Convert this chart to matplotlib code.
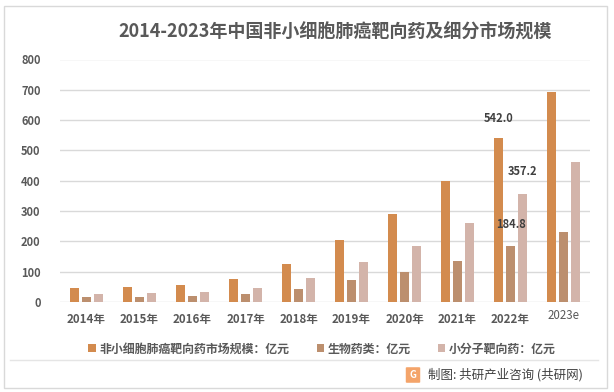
import matplotlib
matplotlib.use("Agg")
import matplotlib.pyplot as plt
import matplotlib.transforms as mtransforms
from matplotlib.patches import Rectangle, FancyBboxPatch
import numpy as np

plt.rcParams['font.family'] = ['Noto Sans CJK SC', 'DejaVu Sans']

years = ["2014年", "2015年", "2016年", "2017年", "2018年",
         "2019年", "2020年", "2021年", "2022年", "2023e"]
total = [46, 50, 57, 77, 127, 205, 290, 399, 542.0, 692]
bio = [17, 17, 21, 28, 44, 73, 99, 135, 184.8, 231]
small = [28, 31, 34, 47, 80, 132, 185, 261, 357.2, 462]
series_names = ["非小细胞肺癌靶向药市场规模：亿元", "生物药类：亿元", "小分子靶向药：亿元"]
colors = ["#D38B4E", "#BC8F6E", "#D3B4AA"]
labels_2022 = ["542.0", "184.8", "357.2"]

fig = plt.figure(figsize=(6.14, 3.92), dpi=100)
fig.patch.set_facecolor("white")
ax = fig.add_axes([60 / 614, 90 / 392, 530 / 614, 242.5 / 392])

x = np.arange(len(years))
w = 0.17
off = 0.225
for i, (vals, c, name) in enumerate(zip([total, bio, small], colors, series_names)):
    bars = ax.bar(x + (i - 1) * off, vals, width=w, color=c, label=name, zorder=3)
    b = bars[8]
    ax.annotate(labels_2022[i], (b.get_x() + b.get_width() / 2, b.get_height()),
                xytext=(0, 9 if i == 0 else 11), textcoords="offset points",
                ha="center", va="bottom", fontsize=8, fontweight="bold",
                color="#404040", zorder=6)

ax.set_ylim(0, 800)
ax.set_xlim(-0.5, len(years) - 0.5)
ax.set_yticks(range(0, 801, 100))
ax.yaxis.grid(True, color="#D9D9D9", linewidth=1, zorder=0)
for s in ax.spines.values():
    s.set_visible(False)
ax.tick_params(axis="both", length=0, labelsize=8, labelcolor="#595959")
ax.tick_params(axis="y", pad=14)
ax.tick_params(axis="x", pad=8)
ax.set_xticks(x)
ax.set_xticklabels(years, fontweight="bold", fontsize=8.3)
for t in ax.get_yticklabels():
    t.set_fontweight("bold")
lab = ax.get_xticklabels()[-1]
lab.set_transform(lab.get_transform() + mtransforms.ScaledTranslation(0, 4 / 100, fig.dpi_scale_trans))
lab.set_fontweight("normal")

fig.text(335 / 614, 1 - 32 / 392, "2014-2023年中国非小细胞肺癌靶向药及细分市场规模",
         ha="center", va="center", fontsize=13, fontweight="bold", color="#595959")

leg = fig.legend(loc="center", bbox_to_anchor=(322 / 614, 1 - 349 / 392), ncol=3,
                 frameon=False, prop={"size": 8.6, "weight": "bold"}, handlelength=0.6,
                 handleheight=0.6, handletextpad=0.3, columnspacing=2.3)
for t in leg.get_texts():
    t.set_color("#595959")

# footer
fig.add_artist(plt.Line2D([10 / 614, 598 / 614], [1 - 360 / 392, 1 - 360 / 392],
                          color="#E5E5E5", linewidth=1))
fig.add_artist(FancyBboxPatch((407 / 614, 1 - 382 / 392), 12 / 614, 14 / 392,
                              boxstyle="round,pad=0.002", facecolor="#F4A46A",
                              edgecolor="none"))
fig.text(413 / 614, 1 - 375 / 392, "G", ha="center", va="center", fontsize=7,
         fontweight="bold", color="white")
fig.text(428 / 614, 1 - 375 / 392, "制图: 共研产业咨询 (共研网)", ha="left", va="center",
         fontsize=9, color="#404040")

fig.add_artist(Rectangle((4 / 614, 4 / 392), 603 / 614, 382 / 392, fill=False,
                         edgecolor="#D9D9D9", linewidth=1))

fig.savefig("out.png", dpi=100)
